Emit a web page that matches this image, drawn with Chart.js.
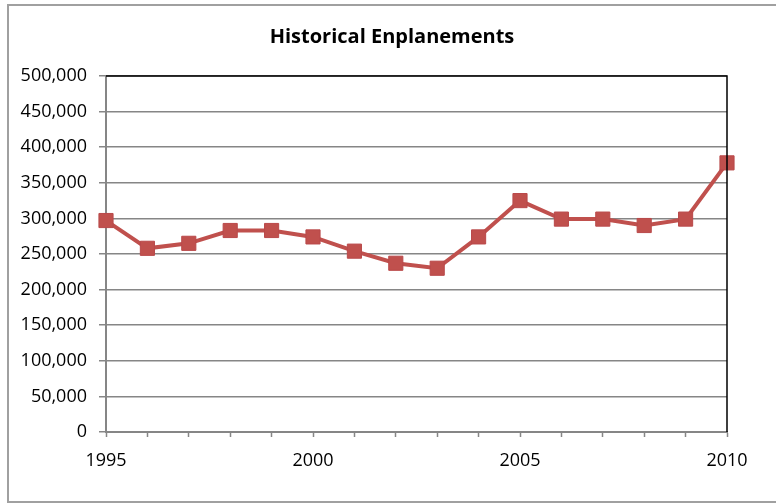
<!DOCTYPE html>
<html>
<head>
<meta charset="utf-8">
<script src="https://cdn.jsdelivr.net/npm/chart.js@4/dist/chart.umd.min.js"></script>
<style>
  html, body { margin: 0; padding: 0; background: #fff; }
  #wrap { position: relative; width: 776px; height: 504px; }
</style>
</head>
<body>
<div id="wrap"><canvas id="c" width="776" height="504"></canvas></div>
<script>
// Annual enplanements, 1995-2010
const years = [1995, 1996, 1997, 1998, 1999, 2000, 2001, 2002, 2003, 2004, 2005, 2006, 2007, 2008, 2009, 2010];
const enplanements = [297000, 258000, 265000, 283000, 283000, 274000, 254000, 237000, 230000, 274000, 325000, 299000, 299000, 290000, 299000, 378000];
const yTicks = [0, 50000, 100000, 150000, 200000, 250000, 300000, 350000, 400000, 450000, 500000];
const labeledYears = [1995, 2000, 2005, 2010];

const FONT = "'Open Sans', 'Liberation Sans', sans-serif";
const RED = '#C0504D';
const AXIS_GRAY = '#868686';

// outer chart frame plus the dark top/right edges of the plot area
const framePlugin = {
  id: 'frame',
  afterLayout(chart) {
    // centre the title over the whole framed chart, not just the plot column
    if (chart.titleBlock) {
      chart.titleBlock.left = 8;
      chart.titleBlock.right = chart.width;
    }
  },
  beforeDraw(chart) {
    const ctx = chart.ctx;
    ctx.save();
    ctx.fillStyle = '#fff';
    ctx.fillRect(0, 0, chart.width, chart.height);
    ctx.strokeStyle = '#a0a0a0';
    ctx.lineWidth = 2;
    ctx.strokeRect(8, 5, chart.width + 10, chart.height - 7);
    ctx.restore();
  },
  afterDatasetsDraw(chart) {
    const a = chart.chartArea;
    const ctx = chart.ctx;
    ctx.save();
    ctx.strokeStyle = '#000';
    ctx.lineWidth = 1.5;
    ctx.beginPath();
    ctx.moveTo(a.left, a.top);
    ctx.lineTo(a.right, a.top);
    ctx.lineTo(a.right, a.bottom);
    ctx.stroke();
    ctx.restore();
  }
};

new Chart(document.getElementById('c'), {
  type: 'line',
  data: {
    datasets: [{
      label: 'Enplanements',
      data: years.map((y, i) => ({ x: y, y: enplanements[i] })),
      borderColor: RED,
      backgroundColor: RED,
      borderWidth: 4,
      pointStyle: 'rect',
      pointRadius: 10,
      pointHoverRadius: 10,
      pointBorderWidth: 1,
      pointBorderColor: '#B9494A',
      pointBackgroundColor: RED,
      tension: 0,
      clip: false
    }]
  },
  options: {
    responsive: false,
    animation: false,
    events: [],
    layout: { padding: { left: 0, right: 49, top: 0, bottom: 0 } },
    plugins: {
      legend: { display: false },
      tooltip: { enabled: false },
      title: {
        display: true,
        text: 'Historical Enplanements',
        color: '#000',
        font: { family: FONT, size: 20, weight: 'bold' },
        padding: { top: 25, bottom: 27 }
      }
    },
    scales: {
      x: {
        type: 'linear',
        min: years[0],
        max: years[years.length - 1],
        afterBuildTicks(scale) {
          scale.ticks = years.map(v => ({ value: v }));
        },
        afterFit(scale) { scale.height = 72; },
        ticks: {
          autoSkip: false,
          maxRotation: 0,
          padding: 13,
          color: '#000',
          font: { family: FONT, size: 18 },
          callback: v => labeledYears.includes(v) ? String(v) : ''
        },
        grid: {
          drawOnChartArea: false,
          drawTicks: true,
          tickLength: 5,
          tickColor: AXIS_GRAY,
          tickWidth: 1.5
        },
        border: { display: true, color: AXIS_GRAY, width: 2 }
      },
      y: {
        min: 0,
        max: 500000,
        afterBuildTicks(scale) {
          scale.ticks = yTicks.map(v => ({ value: v }));
        },
        afterFit(scale) { scale.width = 106; },
        ticks: {
          padding: 12,
          color: '#000',
          font: { family: FONT, size: 18 },
          callback: v => v.toLocaleString('en-US')
        },
        grid: {
          color: AXIS_GRAY,
          lineWidth: 1.5,
          drawTicks: true,
          tickLength: 7,
          tickColor: AXIS_GRAY
        },
        border: { display: true, color: AXIS_GRAY, width: 2 }
      }
    }
  },
  plugins: [framePlugin]
});
</script>
</body>
</html>
